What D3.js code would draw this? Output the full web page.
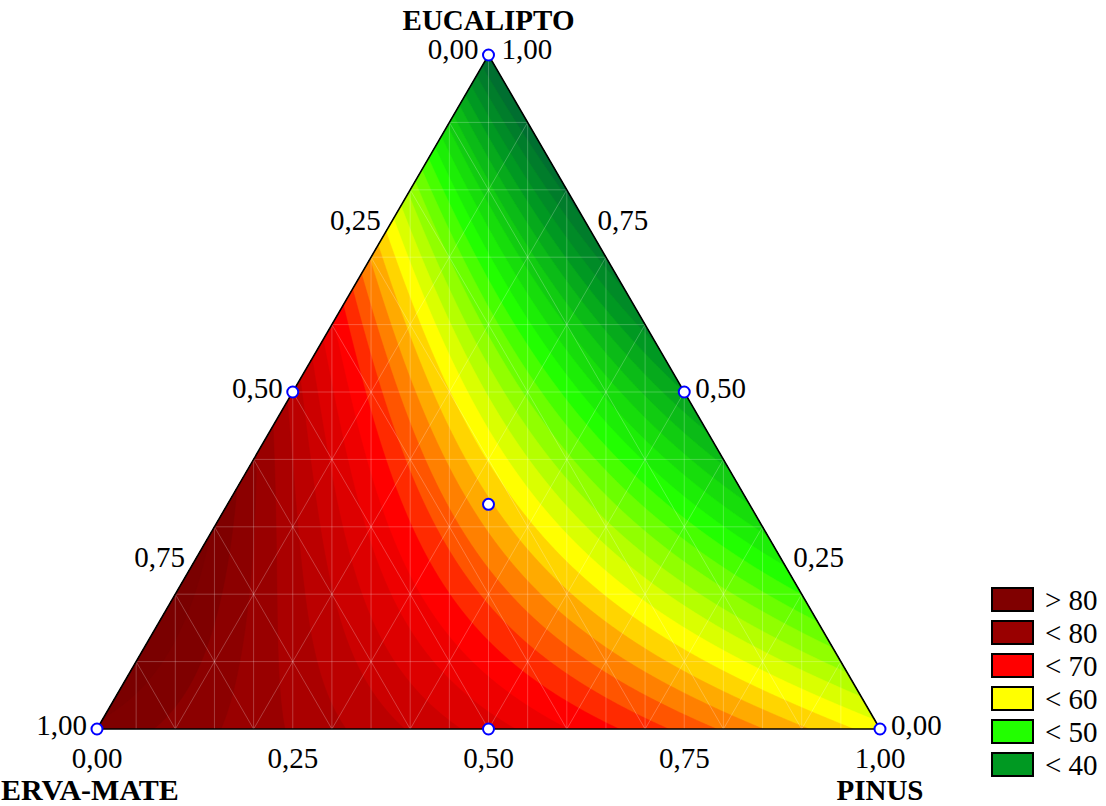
<!DOCTYPE html>
<html>
<head>
<meta charset="utf-8">
<script src="https://cdn.jsdelivr.net/npm/d3@7"></script>
<style>
  body { margin: 0; background: #fff; }
  svg { display: block; }
  text { font-family: "Liberation Serif", "Times New Roman", serif; fill: #000; }
</style>
</head>
<body>
<svg id="chart" width="1106" height="806"></svg>
<script>
// Simplex-centroid design: mixture proportions of each run
const mixErva     = [1, 0, 0, 0.5, 0.5, 0,   1/3];
const mixPinus    = [0, 1, 0, 0.5, 0,   0.5, 1/3];
const mixEucalipto= [0, 0, 1, 0,   0.5, 0.5, 1/3];
// Measured response at each run
const response    = [83, 59, 33, 72.5, 76, 40, 62];

// Component names
const componentNames = ["ERVA-MATE", "PINUS", "EUCALIPTO"];

// Axis ticks
const tickValues = [0, 0.25, 0.5, 0.75, 1];

// Legend entries
const legendLabels = ["> 80", "< 80", "< 70", "< 60", "< 50", "< 40"];
const legendColors = ["#800000", "#990000", "#ff0000", "#ffff00", "#22ff00", "#009922"];

// Colour ramp anchors for the contour bands
const rampValues = [34, 40, 50, 60, 70, 80, 84];
const rampColors = ["#006633", "#009922", "#22ff00", "#ffff00", "#ff0000", "#990000", "#7a0000"];

// ---- Special cubic Scheffé model fitted to the simplex-centroid runs ----
const y1 = response[0], y2 = response[1], y3 = response[2];
const y12 = response[3], y13 = response[4], y23 = response[5], y123 = response[6];
const b1 = y1, b2 = y2, b3 = y3;
const b12 = 4 * y12 - 2 * (y1 + y2);
const b13 = 4 * y13 - 2 * (y1 + y3);
const b23 = 4 * y23 - 2 * (y2 + y3);
const b123 = 27 * y123 - 12 * (y12 + y13 + y23) + 3 * (y1 + y2 + y3);
function model(e, p, u) {
  return b1 * e + b2 * p + b3 * u + b12 * e * p + b13 * e * u + b23 * p * u + b123 * e * p * u;
}

const svg = d3.select("#chart");
const fmt = d3.formatLocale({ decimal: ",", thousands: ".", grouping: [3], currency: ["", ""] }).format(".2f");

// Ternary geometry: x runs along the base (pinus), y up to the eucalipto apex
const x = d3.scaleLinear().domain([0, 1]).range([97, 880]);
const y = d3.scaleLinear().domain([0, 1]).range([729, 55]);
const project = (p, u) => [x(p + u / 2), y(u)];

const cornerErva = project(0, 0), cornerPinus = project(1, 0), cornerEuc = project(0, 1);
const triPath = "M" + [cornerErva, cornerPinus, cornerEuc].map(d => d.join(",")).join("L") + "Z";

svg.append("defs").append("clipPath").attr("id", "tri")
  .append("path").attr("d", triPath);

// ---- Contour bands ----
const cell = 2;
const x0 = 94, y0 = 52;
const nx = Math.ceil((884 - x0) / cell), ny = Math.ceil((732 - y0) / cell);
const values = new Float64Array(nx * ny);
for (let j = 0; j < ny; j++) {
  for (let i = 0; i < nx; i++) {
    const px = x0 + (i + 0.5) * cell, py = y0 + (j + 0.5) * cell;
    const u = y.invert(py);
    const p = x.invert(px) - u / 2;
    const e = 1 - p - u;
    values[j * nx + i] = model(e, p, u);
  }
}
const step = 10 / 6;
const thresholds = d3.range(0, 40).map(k => 25 + k * step);
const ramp = d3.scaleLinear().domain(rampValues).range(rampColors).clamp(true);
const contours = d3.contours().size([nx, ny]).thresholds(thresholds)(values);
const geo = d3.geoPath(d3.geoIdentity().scale(cell).translate([x0, y0]));

const plot = svg.append("g").attr("clip-path", "url(#tri)");
plot.selectAll("path.band").data(contours).join("path")
  .attr("class", "band")
  .attr("d", geo)
  .attr("fill", d => ramp(d.value + step))
  .attr("stroke", d => ramp(d.value + step))
  .attr("stroke-width", 0.5);

// Faint triangulation mesh
const mesh = plot.append("g").attr("stroke", "#ffffff").attr("stroke-opacity", 0.3).attr("stroke-width", 0.8);
const meshLines = [];
d3.range(1, 10).forEach(k => {
  const f = k / 10;
  meshLines.push([project(0, f), project(1 - f, f)]);
  meshLines.push([project(f, 0), project(f, 1 - f)]);
  meshLines.push([project(1 - f, 0), project(0, 1 - f)]);
});
d3.range(1, 20).forEach(k => {
  meshLines.push([[x(k / 20), y(0)], [x(k / 20), y(1)]]);
});
mesh.selectAll("line").data(meshLines).join("line")
  .attr("x1", d => d[0][0]).attr("y1", d => d[0][1])
  .attr("x2", d => d[1][0]).attr("y2", d => d[1][1]);

// Triangle outline
svg.append("path").attr("d", triPath).attr("fill", "none")
  .attr("stroke", "#000").attr("stroke-width", 1.6).attr("stroke-linejoin", "miter");

// ---- Tick labels ----
const fs = 29;
// Bottom edge: pinus fraction
svg.append("g").selectAll("text").data(tickValues).join("text")
  .attr("x", d => project(d, 0)[0]).attr("y", 768)
  .attr("text-anchor", "middle").attr("font-size", fs)
  .text(d => fmt(d));
// Left edge: erva-mate fraction (0 at apex, 1 at base)
svg.append("g").selectAll("text").data(tickValues).join("text")
  .attr("x", d => project(0, 1 - d)[0] - 10).attr("y", d => project(0, 1 - d)[1] + (d === 0 ? 4 : 6))
  .attr("text-anchor", "end").attr("font-size", fs)
  .text(d => fmt(d));
// Right edge: eucalipto fraction (1 at apex, 0 at base)
svg.append("g").selectAll("text").data(tickValues).join("text")
  .attr("x", d => project(1 - d, d)[0] + (d === 1 ? 13 : 11)).attr("y", d => project(1 - d, d)[1] + (d === 1 ? 4 : 6))
  .attr("text-anchor", "start").attr("font-size", fs)
  .text(d => fmt(d));

// Component titles
svg.append("text").attr("x", cornerEuc[0]).attr("y", 30).attr("text-anchor", "middle")
  .attr("font-size", 29).attr("font-weight", "bold").text(componentNames[2]);
svg.append("text").attr("x", 1).attr("y", 800).attr("text-anchor", "start")
  .attr("font-size", 30).attr("font-weight", "bold").text(componentNames[0]);
svg.append("text").attr("x", cornerPinus[0]).attr("y", 800).attr("text-anchor", "middle")
  .attr("font-size", 29).attr("font-weight", "bold").text(componentNames[1]);

// ---- Design points ----
svg.append("g").selectAll("circle").data(response.map((r, i) => i)).join("circle")
  .attr("cx", i => project(mixPinus[i], mixEucalipto[i])[0])
  .attr("cy", i => project(mixPinus[i], mixEucalipto[i])[1])
  .attr("r", 5.5)
  .attr("fill", "#fff").attr("stroke", "#0000ff").attr("stroke-width", 2);

// ---- Legend ----
const legend = svg.append("g");
const rowH = 33;
legend.selectAll("rect").data(legendColors).join("rect")
  .attr("x", 992).attr("y", (d, i) => 588 + i * rowH)
  .attr("width", 41).attr("height", 23)
  .attr("fill", d => d).attr("stroke", "#000").attr("stroke-width", 2);
legend.selectAll("text").data(legendLabels).join("text")
  .attr("x", 1045).attr("y", (d, i) => 610 + i * rowH)
  .attr("font-size", fs).text(d => d);
</script>
</body>
</html>
